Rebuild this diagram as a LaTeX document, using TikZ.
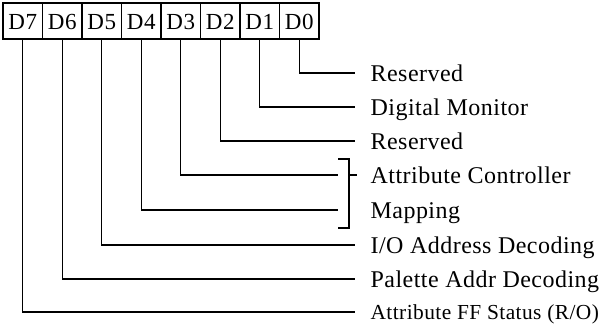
\documentclass[tikz,border=0pt]{standalone}
\usepackage{fontspec}
\setmainfont{Liberation Serif}[LetterSpace=2]
\usetikzlibrary{positioning}
\begin{document}
\begin{tikzpicture}[x=1pt,y=-1pt,line width=1.2pt,
  bitbox/.style={draw,minimum width=39.5pt,minimum height=36pt,inner sep=0pt,outer sep=0pt,
    text height=16pt,text depth=0pt,font=\fontsize{23}{26}\selectfont},
  field/.style={anchor=west,inner sep=0pt,text height=16pt,text depth=0pt,
    font=\fontsize{24}{28}\selectfont},
  lead/.style={shorten >=15pt}]
\useasboundingbox (0,0) rectangle (608,324);
\node[bitbox] (d7) at (22.75,21) {D7};
\node[bitbox,right=0pt of d7] (d6) {D6};
\node[bitbox,right=0pt of d6] (d5) {D5};
\node[bitbox,right=0pt of d5] (d4) {D4};
\node[bitbox,right=0pt of d4] (d3) {D3};
\node[bitbox,right=0pt of d3] (d2) {D2};
\node[bitbox,right=0pt of d2] (d1) {D1};
\node[bitbox,right=0pt of d1] (d0) {D0};
\node[field] (f0) at (370,73) {Reserved};
\node[field] (f1) at (370,107) {Digital Monitor};
\node[field] (f2) at (370,141) {Reserved};
\node[field] (f3) at (370,175) {Attribute Controller};
\node[field] (f4) at (370,210) {Mapping};
\node[field] (f5) at (370,245) {I/O Address Decoding};
\node[field] (f6) at (370,279) {Palette Addr Decoding};
\node[field,text height=15pt,font=\fontsize{21.4}{26}\selectfont] (f7) at (370,312) {Attribute FF Status (R/O)};
\coordinate (b3) at (338,175);
\coordinate (b4) at (338,210);
\foreach \i in {0,1,2,5,6,7}
  \draw[lead] (d\i.south) |- (f\i.west);
\draw (d3.south) |- (b3);
\draw (d4.south) |- (b4);
\draw (338,159) -- (349,159) -- (349,228) -- (338,228);
\draw (349,175) -- (357,175);
\end{tikzpicture}
\end{document}
